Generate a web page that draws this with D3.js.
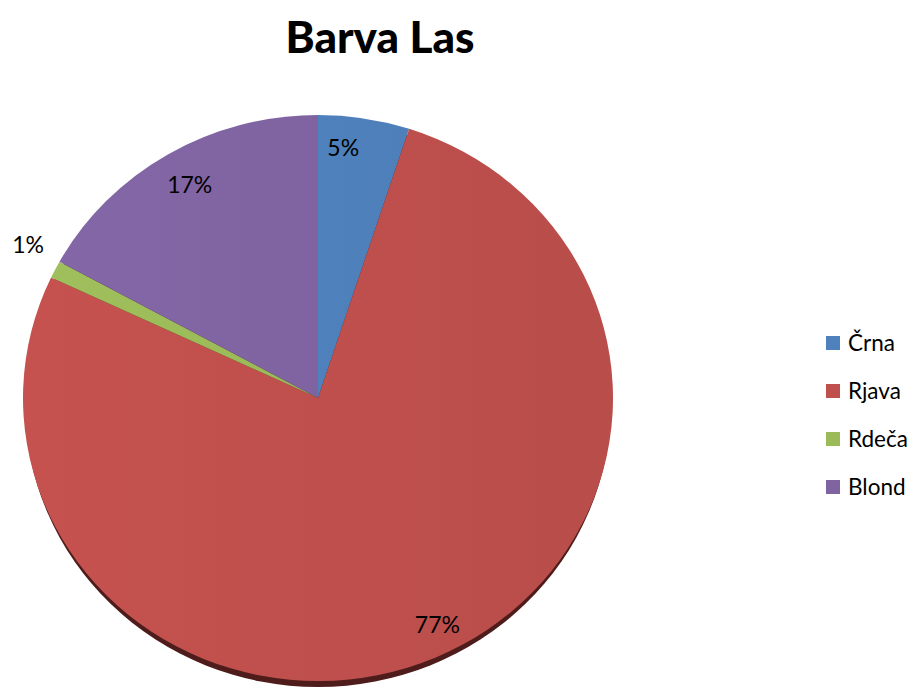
<html lang="sl">
  <head>
    <meta charset="utf-8">
    <title>Barva Las</title>
    <script src="https://d3js.org/d3.v7.min.js"></script>
    <style>
      body { margin: 0; background: #fff; }
      text { font-family: Lato, "Open Sans", sans-serif; }
    </style>
  </head>
  <body>
    <script type="text/javascript">
      var w = 913;
      var h = 689;
      var categories = ["Črna", "Rjava", "Rdeča", "Blond"];
      var values = [5, 77, 1, 17];
      var labels = ["5%", "77%", "1%", "17%"];
      var colors = ["#4f81bd", "#c0504d", "#9bbb59", "#8064a2"];

      var cx = 318, cy = 398, rx = 295, ry = 283;
      var sy = ry / rx;

      var dataset = categories.map(function(c, i) {
        return {name: c, value: values[i], label: labels[i], color: colors[i]};
      });

      var svg = d3.select("body")
          .append("svg")
          .attr("width", w)
          .attr("height", h);

      // gradient per slice, slightly lighter on the left
      var defs = svg.append("defs");
      dataset.forEach(function(d, i) {
        var g = defs.append("linearGradient")
            .attr("id", "g" + i)
            .attr("gradientUnits", "userSpaceOnUse")
            .attr("x1", -rx).attr("y1", 0)
            .attr("x2", rx).attr("y2", 0);
        g.append("stop").attr("offset", "0%").attr("stop-color", d3.color(d.color).brighter(0.08));
        g.append("stop").attr("offset", "100%").attr("stop-color", d3.color(d.color).darker(0.12));
      });

      svg.append("text")
          .attr("x", 380)
          .attr("y", 53)
          .attr("text-anchor", "middle")
          .style("font-size", "44px")
          .style("font-weight", "900")
          .text("Barva Las");

      var pie = d3.pie()
          .sort(null)
          .value(function(d) { return d.value; });
      var arcs = pie(dataset);

      var arc = d3.arc().innerRadius(0).outerRadius(rx);

      // shadow / depth under the pie
      svg.append("ellipse")
          .attr("cx", cx)
          .attr("cy", cy + 6)
          .attr("rx", rx - 2)
          .attr("ry", ry)
          .attr("fill", "#4e1c1b");

      var g = svg.append("g")
          .attr("transform", "translate(" + cx + "," + cy + ") scale(1," + sy + ")");

      g.selectAll("path")
          .data(arcs)
          .enter()
          .append("path")
          .attr("d", arc)
          .attr("fill", function(d, i) { return "url(#g" + i + ")"; });

      // data labels (radius fraction along mid angle, plus small nudge)
      var labelR = [0.894, 0.874, 1.103, 0.874];
      var nudge = [[-16, 0], [17, 0], [0, -11], [3, 0]];
      svg.selectAll("text.lbl")
          .data(arcs)
          .enter()
          .append("text")
          .attr("class", "lbl")
          .attr("x", function(d, i) {
            var a = (d.startAngle + d.endAngle) / 2;
            return cx + Math.sin(a) * rx * labelR[i] + nudge[i][0];
          })
          .attr("y", function(d, i) {
            var a = (d.startAngle + d.endAngle) / 2;
            return cy - Math.cos(a) * ry * labelR[i] + nudge[i][1];
          })
          .attr("text-anchor", "middle")
          .attr("dy", "0.35em")
          .style("font-size", "23px")
          .style("fill", "#000")
          .text(function(d) { return d.data.label; });

      // legend
      var legendY = d3.scalePoint()
          .domain(categories)
          .range([343, 487]);
      var legend = svg.selectAll("g.legend")
          .data(dataset)
          .enter()
          .append("g")
          .attr("class", "legend")
          .attr("transform", function(d) { return "translate(826," + legendY(d.name) + ")"; });
      legend.append("rect")
          .attr("x", 0)
          .attr("y", -7)
          .attr("width", 14)
          .attr("height", 14)
          .attr("fill", function(d) { return d.color; });
      legend.append("text")
          .attr("x", 22)
          .attr("dy", "0.36em")
          .style("font-size", "22.5px")
          .text(function(d) { return d.name; });
    </script>
  </body>
</html>
